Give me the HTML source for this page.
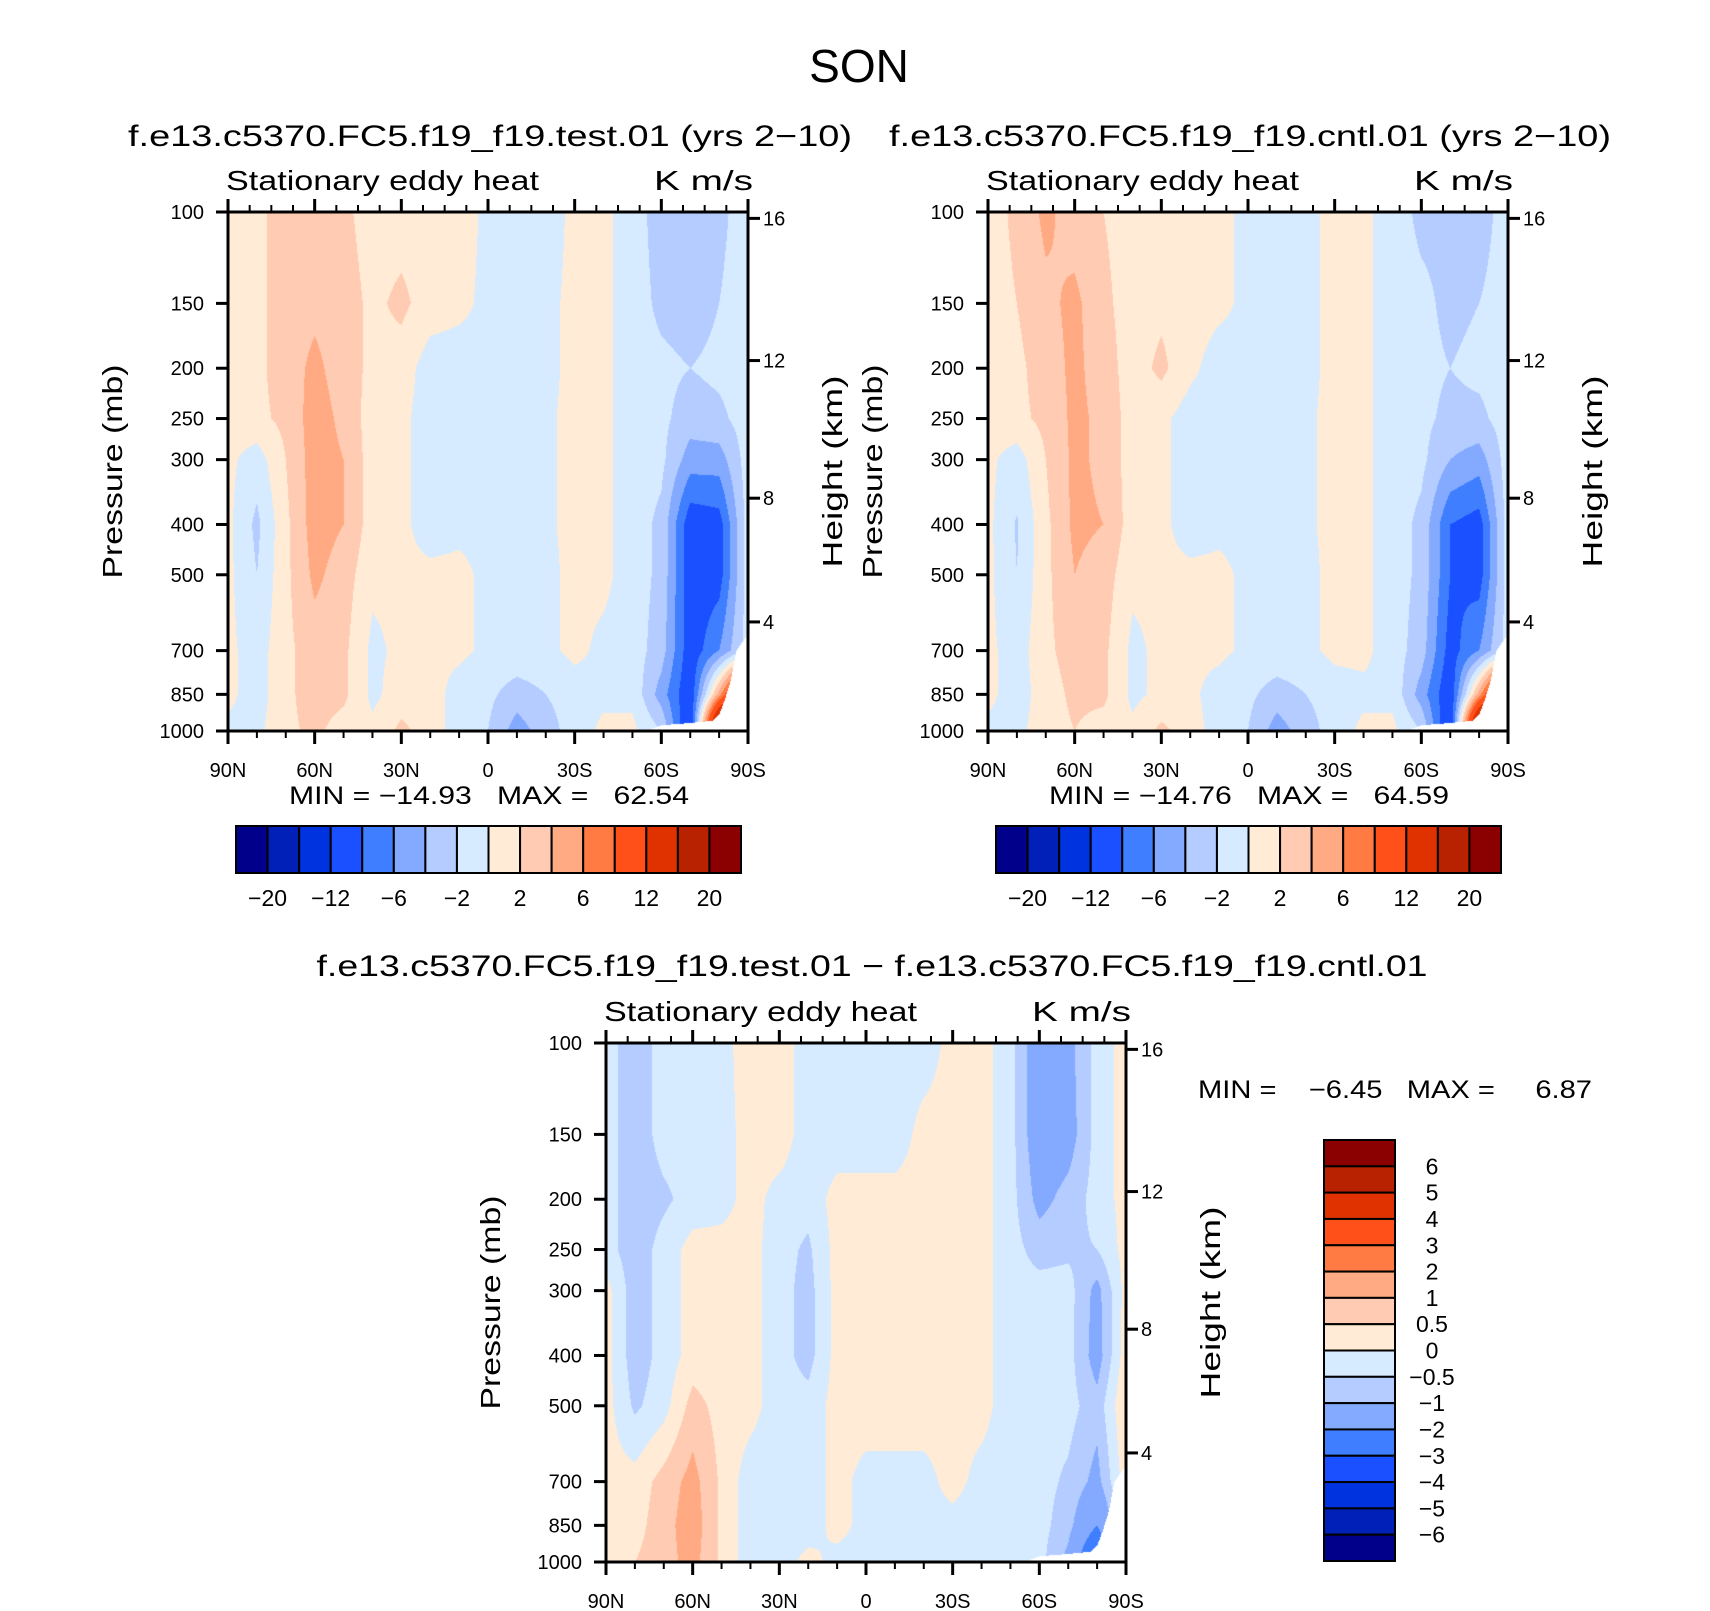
<!DOCTYPE html>
<html><head><meta charset="utf-8">
<style>
html,body{margin:0;padding:0;background:#fff;}
#wrap{position:relative;width:1710px;height:1611px;overflow:hidden;}
canvas,svg{position:absolute;left:0;top:0;}
text{font-family:"Liberation Sans",sans-serif;fill:#000;white-space:pre;}
</style></head>
<body>
<div id="wrap">
<canvas id="cv" width="1710" height="1611"></canvas>
<svg id="sv" width="1710" height="1611" xmlns="http://www.w3.org/2000/svg">
<text x="859" y="82" font-size="46" text-anchor="middle">SON</text>
<text x="490" y="146" font-size="30" text-anchor="middle" textLength="724" lengthAdjust="spacingAndGlyphs">f.e13.c5370.FC5.f19_f19.test.01 (yrs 2−10)</text>
<text x="1250" y="146" font-size="30" text-anchor="middle" textLength="722" lengthAdjust="spacingAndGlyphs">f.e13.c5370.FC5.f19_f19.cntl.01 (yrs 2−10)</text>
<text x="872" y="976" font-size="30" text-anchor="middle" textLength="1111" lengthAdjust="spacingAndGlyphs">f.e13.c5370.FC5.f19_f19.test.01 − f.e13.c5370.FC5.f19_f19.cntl.01</text>
<text x="289" y="804" font-size="25" textLength="400" lengthAdjust="spacingAndGlyphs">MIN = −14.93   MAX =   62.54</text>
<text x="1049" y="804" font-size="25" textLength="400" lengthAdjust="spacingAndGlyphs">MIN = −14.76   MAX =   64.59</text>
<text x="1198" y="1098" font-size="25" textLength="394" lengthAdjust="spacingAndGlyphs">MIN =    −6.45   MAX =     6.87</text>
</svg>
</div>
<script>
// ---------- data ----------
const lats = [90,80,70,60,50,40,30,20,10,0,-10,-20,-30,-40,-50,-60,-70,-80,-90];
const plevs = [100,150,200,250,300,400,500,700,850,1000];
const testField = [
[1,1.5,3,3,2.5,1,1,1,1,-0.5,-1,-1,0.5,0.5,-1,-3,-3,-2.5,-1],
[1,1.5,3,3.5,3,1.5,2.5,1,0.5,-0.5,-0.7,-0.5,0.5,0.5,-1,-2.5,-3,-2,-1],
[1,1.5,3,4.5,3,1.5,1,-1,-1,-0.5,-0.5,-0.5,0.5,0.5,-1,-1.5,-2,-1.5,-1],
[1,1.5,2.5,5,3.5,1,0.5,-1,-1,-0.5,-0.5,-0.3,0.5,0.5,-1,-1.5,-3,-2.5,-1],
[0.5,-1,2,5,4,1,0.5,-1,-1,-0.5,-0.5,-0.3,0.5,0.5,-1,-1.5,-5,-5,-1],
[0.5,-2.5,1.5,5,4,1,0.5,-1,-0.5,-0.5,-0.5,-0.3,0.5,0.5,-1,-2.5,-9.5,-9,-1],
[0.5,-2,1.5,4.5,3,0.5,0.5,0.5,0.5,-0.5,-0.5,-0.5,0.5,0.5,-1,-2.5,-9.5,-9,-1],
[0.5,-1,1.5,3,2.5,-0.5,0.5,0.5,0.5,-0.5,-0.5,-0.5,0.5,-0.5,-1,-3,-9.5,-6,-1],
[0.5,-1,1.5,3,2.5,-0.5,1,1,-1,-1.5,-3,-2,-1,-0.5,-0.5,-5,-10,5,20],
[-0.5,-0.5,1.5,2.5,1,0.5,2.5,1,-1,-2,-5,-3,-1,0.5,0.5,-2,-11,25,40]
];
const cntlField = [
[1,2.5,4.5,3,2,1,1,1,0.5,-0.5,-1,-0.5,0.5,0.5,-1,-2.5,-2.5,-3,-1],
[1,2,3.5,4.5,2.5,1,1.5,1,0.5,-0.5,-0.5,-0.5,0.5,0.5,-1,-1.5,-2.5,-2,-1],
[1,1.5,3,4.5,3,1,2.5,0.5,-1,-0.5,-0.5,-0.5,0.5,0.5,-1,-1.5,-2,-1.5,-1],
[1,1.5,2.5,4.5,3.5,1,0.5,-1,-1,-0.5,-0.5,-0.3,0.5,0.5,-1,-1.5,-2.5,-2.5,-1],
[0.5,-1,2,4.5,3.5,1,0.5,-1,-1,-0.5,-0.5,-0.3,0.5,0.5,-1,-1.5,-4,-5,-1],
[0.5,-2.2,1.5,4.5,4,1,0.5,-1,-0.5,-0.5,-0.5,-0.3,0.5,0.5,-1,-2.5,-8,-9,-1],
[0.5,-2,1.5,4,3,0.5,0.5,0.5,0.5,-0.5,-0.5,-0.5,0.5,0.5,-1,-2.5,-8,-9,-1],
[0.5,-1,1.5,3,2.5,-0.5,0.5,0.5,0.5,-0.5,-0.5,-0.5,0.5,0.5,-1,-3,-9,-6,-1],
[0.5,-1,1,2.5,2.5,-0.5,0.5,0.5,-1,-1.5,-3,-2,-1,-0.5,-0.5,-5,-10,5,20],
[-0.5,-0.5,1,2,1,0.5,2.5,1,-1,-2,-5,-3,-1,0.5,0.5,-2,-11,25,40]
];
const diffField = [
[-0.3,-0.8,-0.3,-0.3,-0.2,0.3,0.2,-0.2,-0.3,-0.3,-0.3,-0.3,0.2,0.2,-0.3,-1.5,-1.2,-0.3,0.2],
[-0.3,-0.8,-0.3,-0.3,-0.2,0.2,0.3,-0.3,-0.3,-0.3,-0.3,0.2,0.2,0.2,-0.3,-1.5,-1.3,-0.3,0.2],
[-0.3,-0.8,-0.6,-0.3,-0.2,0.2,-0.2,-0.3,0.2,0.2,0.2,0.2,0.2,0.2,-0.3,-1.2,-0.8,-0.3,0.2],
[-0.3,-0.8,-0.3,0.2,0.2,0.2,-0.3,-0.6,0.2,0.3,0.2,0.2,0.2,0.2,-0.3,-0.7,-0.6,-0.5,0.2],
[0.2,-0.8,-0.3,0.2,0.2,0.2,-0.3,-0.7,0.2,0.3,0.3,0.2,0.2,0.2,-0.3,-0.3,-0.3,-1.2,0.2],
[0.2,-0.8,-0.3,0.2,0.2,0.2,-0.3,-0.7,0.2,0.3,0.3,0.2,0.2,0.2,-0.3,-0.3,-0.3,-1.3,0.3],
[0.2,-0.6,-0.2,0.7,0.3,0.2,-0.3,-0.3,0.2,0.3,0.3,0.3,0.2,0.2,-0.3,-0.3,-0.3,-0.8,0.5],
[0.2,0.2,0.7,1.2,0.4,-0.3,-0.3,-0.3,0.2,-0.2,-0.2,-0.2,0.2,-0.2,-0.3,-0.3,-0.6,-1.2,0.3],
[0.2,0.3,0.8,1.3,0.4,-0.3,-0.3,-0.3,0.2,-0.2,-0.2,-0.2,-0.2,-0.3,-0.3,-0.3,-0.8,-2,0],
[0.3,0.5,0.8,1.2,0.4,-0.3,-0.3,0.2,-0.2,-0.2,-0.2,-0.2,-0.2,-0.2,-0.3,-0.3,-1.2,-3.5,-0.3]
];
const maskLats = [-55,-60,-70,-78,-80,-82,-84,-86,-90];
const maskPsfc = [1000,975,965,955,930,870,800,700,650];
const levelsAbs = [-20,-16,-12,-8,-6,-4,-2,0,2,4,6,8,12,16,20];
const levelsDiff = [-6,-5,-4,-3,-2,-1,-0.5,0,0.5,1,2,3,4,5,6];
const cbLabelsAbs = ['−20','−12','−6','−2','2','6','12','20'];
const cbLabelsDiff = ['6','5','4','3','2','1','0.5','0','−0.5','−1','−2','−3','−4','−5','−6'];
const pTicks = [100,150,200,250,300,400,500,700,850,1000];
const hTicks = [16,12,8,4];
const latTickLabels = ['90N','60N','30N','0','30S','60S','90S'];
const colors = ['#00008a','#0020b8','#0033e0','#1a50ff','#3f7fff','#84aaff','#b4ccff','#d6ebff','#ffebd6','#ffcbb2','#ffaa82','#ff7b43','#ff501a','#e03200','#b82200','#8b0000'];

// ---------- helpers ----------
const NS='http://www.w3.org/2000/svg';
const sv=document.getElementById('sv');
function mk(tag,attrs,parent){const e=document.createElementNS(NS,tag);for(const k in attrs)e.setAttribute(k,attrs[k]);(parent||sv).appendChild(e);return e;}
function hexRgb(h){return [parseInt(h.substr(1,2),16),parseInt(h.substr(3,2),16),parseInt(h.substr(5,2),16)];}
const rgb=colors.map(hexRgb);
function pToFrac(p){return Math.log10(p)-2;}
function zToP(z){z*=1000; if(z<11000) return 1013.25*Math.pow(1-2.25577e-5*z,5.25588); return 226.32*Math.exp(-(z-11000)/6341.6);}
function psfcAt(lat){
  if(lat>maskLats[0]) return 1e9;
  for(let i=0;i<maskLats.length-1;i++){ if(lat<=maskLats[i]&&lat>=maskLats[i+1]){const t=(maskLats[i]-lat)/(maskLats[i]-maskLats[i+1]);return maskPsfc[i]+(maskPsfc[i+1]-maskPsfc[i])*t;} }
  return maskPsfc[maskPsfc.length-1];
}
const lpl=plevs.map(p=>Math.log10(p));
function sample(f,lat,p){
  const fx=(90-lat)/10; let i=Math.min(Math.floor(fx),lats.length-2); const tx=fx-i;
  const lp=Math.log10(p); let j=0; while(j<plevs.length-2&&lp>lpl[j+1]) j++;
  const ty=(lp-lpl[j])/(lpl[j+1]-lpl[j]);
  const a=f[j][i],b=f[j][i+1],c=f[j+1][i],d=f[j+1][i+1];
  return (a*(1-tx)+b*tx)*(1-ty)+(c*(1-tx)+d*tx)*ty;
}
function levelIdx(v,lv){let k=0;while(k<lv.length&&v>=lv[k])k++;return k;}

const cv=document.getElementById('cv');const ctx=cv.getContext('2d');
function fillPanel(P,f,lv){
  const img=ctx.createImageData(P.w,P.h);
  for(let y=0;y<P.h;y++){
    const p=Math.pow(10,2+(y+0.5)/P.h);
    for(let x=0;x<P.w;x++){
      const lat=90-180*(x+0.5)/P.w; const o=(y*P.w+x)*4;
      if(p>psfcAt(lat)){img.data[o]=255;img.data[o+1]=255;img.data[o+2]=255;img.data[o+3]=255;continue;}
      const c=rgb[levelIdx(sample(f,lat,p),lv)];
      img.data[o]=c[0];img.data[o+1]=c[1];img.data[o+2]=c[2];img.data[o+3]=255;
    }
  }
  ctx.putImageData(img,P.x,P.y);
}
function axes(P,name){
  const g=mk('g',{});
  
  
  for(let k=0;k<=24;k++){const x=P.x+P.w*k/24;const maj=k%4===0;
    mk('line',{x1:x,x2:x,y1:P.y,y2:P.y-(maj?13:7),stroke:'#000','stroke-width':maj?3:2},g);}
  for(let k=0;k<=18;k++){const x=P.x+P.w*k/18;const maj=k%3===0;
    mk('line',{x1:x,x2:x,y1:P.y+P.h,y2:P.y+P.h+(maj?13:7),stroke:'#000','stroke-width':maj?3:2},g);
    if(maj){const t=mk('text',{x:x,y:P.y+P.h+46,'font-size':20,'text-anchor':'middle'},g);t.textContent=latTickLabels[k/3];
      
      }
  }
  pTicks.forEach(p=>{const y=P.y+P.h*pToFrac(p);
    mk('line',{x1:P.x,x2:P.x-12,y1:y,y2:y,stroke:'#000','stroke-width':3},g);
    const t=mk('text',{x:P.x-24,y:y+7,'font-size':20,'text-anchor':'end'},g);t.textContent=p;
    
    });
  hTicks.forEach(z=>{const y=P.y+P.h*pToFrac(zToP(z));
    mk('line',{x1:P.x+P.w,x2:P.x+P.w+12,y1:y,y2:y,stroke:'#000','stroke-width':3},g);
    const t=mk('text',{x:P.x+P.w+15,y:y+7,'font-size':20},g);t.textContent=z;
    
    });
  const fr=mk('rect',{x:P.x,y:P.y,width:P.w,height:P.h,fill:'none',stroke:'#000','stroke-width':3},g);
  
  
  const cy=P.y+P.h/2;
  const pt=mk('text',{x:0,y:0,'font-size':28,'text-anchor':'middle',transform:`translate(${P.x-106},${cy}) rotate(-90)`,textLength:214,lengthAdjust:'spacingAndGlyphs'},g);
  pt.textContent='Pressure (mb)';
  
  
  const ht=mk('text',{x:0,y:0,'font-size':28,'text-anchor':'middle',transform:`translate(${P.x+P.w+94},${cy}) rotate(-90)`,textLength:192,lengthAdjust:'spacingAndGlyphs'},g);
  ht.textContent='Height (km)';
  
  
  const s=mk('text',{x:P.x-2,y:P.y-22,'font-size':28,textLength:313,lengthAdjust:'spacingAndGlyphs'},g);s.textContent='Stationary eddy heat';
  
  
  const u=mk('text',{x:P.x+P.w+5,y:P.y-22,'font-size':28,'text-anchor':'end',textLength:99,lengthAdjust:'spacingAndGlyphs'},g);u.textContent='K m/s';
  
  
}
function hColorbar(x,y,w,h,name){
  const g=mk('g',{});
  
  
  const bw=w/16;
  colors.forEach((c,i)=>{const r=mk('rect',{x:x+i*bw,y:y,width:bw,height:h,fill:c,stroke:'#000','stroke-width':2},g);
    
    });
  cbLabelsAbs.forEach((l,i)=>{const t=mk('text',{x:x+bw*(1+2*i),y:y+h+33,'font-size':23,'text-anchor':'middle'},g);t.textContent=l;
    
    });
}
function vColorbar(x,y,w,h,name){
  const g=mk('g',{});
  
  
  const bh=h/16;
  colors.slice().reverse().forEach((c,i)=>{const r=mk('rect',{x:x,y:y+i*bh,width:w,height:bh,fill:c,stroke:'#000','stroke-width':2},g);
    
    });
  cbLabelsDiff.forEach((l,i)=>{const t=mk('text',{x:x+108,y:y+bh*(i+1)+8,'font-size':23,'text-anchor':'middle'},g);t.textContent=l;
    
    });
}
const PA={x:228,y:212,w:520,h:519}, PB={x:988,y:212,w:520,h:519}, PC={x:606,y:1043,w:520,h:519};
fillPanel(PA,testField,levelsAbs);
fillPanel(PB,cntlField,levelsAbs);
fillPanel(PC,diffField,levelsDiff);
axes(PA,'test-panel');axes(PB,'cntl-panel');axes(PC,'diff-panel');
hColorbar(236,826,505,47,'test-colorbar');
hColorbar(996,826,505,47,'cntl-colorbar');
vColorbar(1324,1140,71,421,'diff-colorbar');
</script>
</body></html>
